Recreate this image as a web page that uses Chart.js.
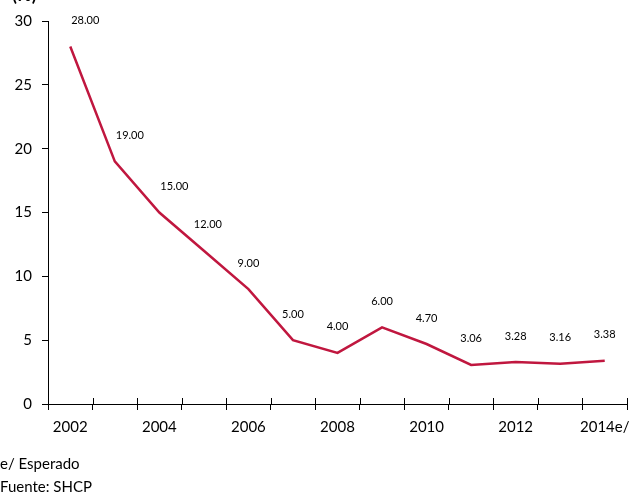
<!DOCTYPE html>
<html>
<head>
<meta charset="utf-8">
<script src="https://cdn.jsdelivr.net/npm/chart.js@4"></script>
<style>
  body { margin: 0; background: #fff; font-family: Lato, 'Open Sans', sans-serif; }
  #wrap { position: relative; width: 629px; height: 496px; overflow: hidden; }
  .note { position: absolute; left: 0; font-size: 15px; color: #000; }
  #unit { position: absolute; left: 12px; top: -17px; font-size: 18px; font-weight: bold; }
</style>
</head>
<body>
<div id="wrap">
  <canvas id="chart" width="629" height="496"></canvas>
  <div id="unit">(%)</div>
  <div class="note" style="top:454px">e/ Esperado</div>
  <div class="note" style="top:477px">Fuente: SHCP</div>
</div>
<script>
const years = ['2002', '2003', '2004', '2005', '2006', '2007', '2008', '2009', '2010', '2011', '2012', '2013', '2014e/'];
const rates = [28, 19, 15, 12, 9, 5, 4, 6, 4.7, 3.06, 3.28, 3.16, 3.38];
const yTicks = [0, 5, 10, 15, 20, 25, 30];

// value labels above each point; on the steep start they sit to the right of the line
const valueLabels = {
  id: 'valueLabels',
  afterDatasetsDraw(chart) {
    const ctx = chart.ctx;
    const meta = chart.getDatasetMeta(0);
    ctx.save();
    ctx.font = '11px Lato, sans-serif';
    ctx.fillStyle = '#000';
    ctx.textAlign = 'center';
    ctx.textBaseline = 'middle';
    meta.data.forEach((pt, i) => {
      const next = rates[i + 1];
      let dx = 0;
      if (next !== undefined && rates[i] >= 15 && rates[i] - next >= 3) dx = 15;
      else if (next !== undefined && rates[i] - next >= 3 && rates[i] >= 12) dx = 4;
      ctx.fillText(rates[i].toFixed(2), pt.x + dx, pt.y - 26);
    });
    ctx.restore();
  }
};

// x tick marks cross the axis, draw the part above it
const crossTicks = {
  id: 'crossTicks',
  afterDraw(chart) {
    const x = chart.scales.x;
    const ctx = chart.ctx;
    const step = (x.right - x.left) / years.length;
    ctx.save();
    ctx.strokeStyle = '#000';
    ctx.lineWidth = 1;
    ctx.beginPath();
    for (let i = 0; i <= years.length; i++) {
      const px = Math.round(x.left + step * i) + 0.5;
      ctx.moveTo(px, x.top - 6);
      ctx.lineTo(px, x.top);
    }
    ctx.stroke();
    ctx.restore();
  }
};

new Chart(document.getElementById('chart'), {
  type: 'line',
  data: {
    labels: years,
    datasets: [{
      data: rates,
      borderColor: '#c0173f',
      borderWidth: 2.5,
      pointRadius: 0,
      tension: 0
    }]
  },
  options: {
    responsive: false,
    animation: false,
    layout: { padding: { top: 21, right: 2, left: 0, bottom: 0 } },
    plugins: { legend: { display: false }, tooltip: { enabled: false } },
    scales: {
      x: {
        offset: true,
        grid: { offset: true, drawOnChartArea: false, tickLength: 6, color: '#000' },
        border: { color: '#000', width: 1 },
        ticks: {
          autoSkip: false,
          maxRotation: 0,
          padding: 8,
          color: '#000',
          font: { family: 'Lato', size: 15 },
          callback: (v, i) => (i % 2 === 0 ? years[i] : '')
        },
        afterFit: (s) => { s.height = 92; s.paddingLeft = 0; s.paddingRight = 0; }
      },
      y: {
        min: 0,
        max: 30,
        afterBuildTicks: (s) => { s.ticks = yTicks.map((v) => ({ value: v })); },
        grid: { drawOnChartArea: false, tickLength: 6, color: '#000' },
        border: { color: '#000', width: 1 },
        ticks: { padding: 10, color: '#000', font: { family: 'Lato', size: 15 } },
        afterFit: (s) => { s.width = 48; s.paddingTop = 0; s.paddingBottom = 0; }
      }
    }
  },
  plugins: [valueLabels, crossTicks]
});
</script>
</body>
</html>
